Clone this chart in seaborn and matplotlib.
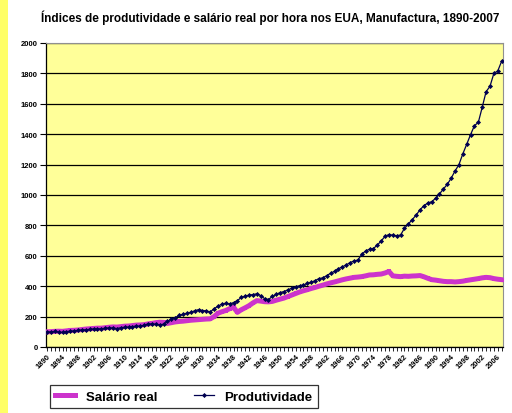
import matplotlib
matplotlib.use("Agg")
import matplotlib.pyplot as plt
from matplotlib.patches import Rectangle
from matplotlib.ticker import MultipleLocator
import seaborn as sns
import pandas as pd

# data (index, 1890 = 100)
anos = list(range(1890, 2008))

salario_real = [
    100, 101, 103, 104, 103, 106, 109, 110, 112, 115,   # 1890-1899
    118, 120, 122, 124, 124, 127, 130, 132, 131, 134,   # 1900-1909
    137, 138, 141, 144, 145, 147, 152, 155, 160, 163,   # 1910-1919
    162, 155, 160, 165, 168, 170, 173, 176, 178, 180,   # 1920-1929
    182, 184, 185, 200, 222, 232, 240, 252, 262, 228,   # 1930-1939
    245, 258, 272, 290, 305, 302, 298, 297, 300, 308,   # 1940-1949
    315, 322, 332, 342, 352, 362, 370, 377, 385, 392,   # 1950-1959
    400, 407, 415, 422, 428, 435, 442, 448, 453, 458,   # 1960-1969
    460, 463, 468, 474, 475, 478, 480, 487, 497, 468,   # 1970-1979
    465, 463, 466, 465, 467, 468, 470, 462, 452, 443,   # 1980-1989
    440, 436, 432, 430, 430, 428, 430, 433, 438, 442,   # 1990-1999
    446, 450, 455, 458, 456, 450, 446, 443,             # 2000-2007
]

produtividade = [
    100, 99, 103, 98, 96, 101, 104, 106, 109, 113,      # 1890-1899
    113, 116, 119, 119, 120, 123, 126, 125, 121, 127,   # 1900-1909
    130, 131, 134, 138, 137, 143, 152, 152, 150, 145,   # 1910-1919
    150, 168, 185, 193, 208, 215, 222, 228, 238, 246,   # 1920-1929
    240, 238, 230, 252, 268, 282, 288, 283, 292, 305,   # 1930-1939
    326, 335, 341, 345, 350, 338, 318, 312, 333, 346,   # 1940-1949
    358, 365, 376, 386, 396, 403, 408, 418, 425, 437,   # 1950-1959
    450, 455, 470, 485, 498, 515, 527, 540, 555, 566,   # 1960-1969
    572, 610, 632, 643, 648, 670, 698, 728, 740, 735,   # 1970-1979
    732, 737, 781, 809, 838, 868, 903, 930, 947, 956,   # 1980-1989
    978, 1007, 1039, 1070, 1110, 1158, 1199, 1270, 1333, 1397,  # 1990-1999
    1456, 1478, 1577, 1680, 1715, 1800, 1816, 1880,     # 2000-2007
]

y_ticks = list(range(0, 2001, 200))
x_labels = list(range(1890, 2007, 4))

titulo = "Índices de produtividade e salário real por hora nos EUA, Manufactura, 1890-2007"

df = pd.concat([
    pd.DataFrame({"Ano": anos, "Índice": salario_real, "Série": "Salário real"}),
    pd.DataFrame({"Ano": anos, "Índice": produtividade, "Série": "Produtividade"}),
])

plt.rcParams["font.family"] = ["Liberation Sans", "DejaVu Sans"]

fig = plt.figure(figsize=(5.12, 4.14), dpi=100)
fig.patch.set_facecolor("white")
fig.patches.append(Rectangle((0, 0), 8 / 512, 1, transform=fig.transFigure,
                             facecolor="#FFFF66", edgecolor="none", zorder=0))

ax = fig.add_axes([46 / 512, 66 / 414, 457 / 512, 304 / 414])
ax.set_facecolor("#FFFF99")

sns.lineplot(data=df[df["Série"] == "Salário real"], x="Ano", y="Índice",
             color="#CC33CC", linewidth=3.6, marker="s", markersize=3,
             markeredgewidth=0, ax=ax, label="Salário real", zorder=3)
sns.lineplot(data=df[df["Série"] == "Produtividade"], x="Ano", y="Índice",
             color="#000050", linewidth=0.9, marker="D", markersize=2.6,
             markeredgewidth=0, ax=ax, label="Produtividade", zorder=4)

ax.set_xlim(1889.75, 2007.35)
ax.set_ylim(0, 2000)
ax.set_yticks(y_ticks)
ax.set_xticks(x_labels)
ax.xaxis.set_minor_locator(MultipleLocator(1))
ax.set_xlabel("")
ax.set_ylabel("")

ax.grid(axis="y", color="black", linewidth=0.9)
ax.set_axisbelow(True)

for s in ["top", "right"]:
    ax.spines[s].set_color("#909090")
    ax.spines[s].set_linewidth(0.8)
for s in ["left", "bottom"]:
    ax.spines[s].set_color("black")
    ax.spines[s].set_linewidth(0.9)

ax.tick_params(axis="y", direction="out", length=4, width=0.8, pad=2,
               labelsize=5.5)
ax.tick_params(axis="x", which="major", direction="out", length=3, width=0.6,
               pad=1, labelsize=5.5)
ax.tick_params(axis="x", which="minor", direction="out", length=3, width=0.6)
for lbl in ax.get_yticklabels():
    lbl.set_fontweight("bold")
for lbl in ax.get_xticklabels():
    lbl.set_fontweight("bold")
    lbl.set_rotation(45)
    lbl.set_ha("right")
    lbl.set_rotation_mode("anchor")

fig.text(0.527, 0.958, titulo, ha="center", va="center", fontsize=8.5,
         fontweight="bold")

handles, labels = ax.get_legend_handles_labels()
ax.get_legend().remove()
leg = fig.legend(handles, labels, loc="lower left",
                 bbox_to_anchor=(50 / 512, 5 / 414, 268 / 512, 27 / 414),
                 mode="expand", ncol=2, frameon=True, fancybox=False,
                 prop={"size": 9.5, "weight": "bold"}, handlelength=1.5,
                 handletextpad=0.8, borderaxespad=0, columnspacing=1.5)
leg.get_frame().set_edgecolor("black")
leg.get_frame().set_linewidth(0.9)

fig.savefig("out.png", dpi=100)
plt.close(fig)
